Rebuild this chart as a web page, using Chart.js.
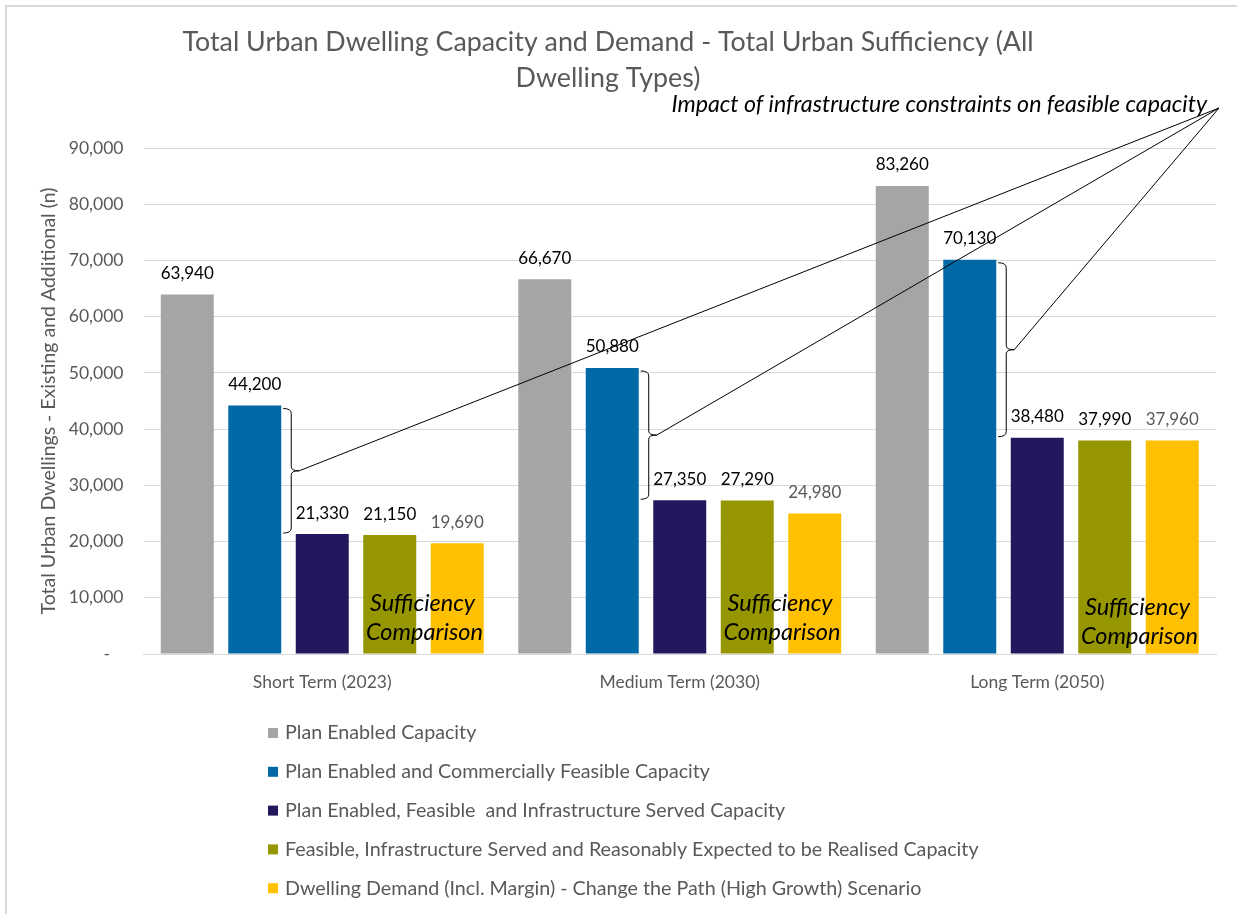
<!DOCTYPE html>
<html>
<head>
<meta charset="utf-8">
<title>Total Urban Dwelling Capacity and Demand</title>
<script src="https://cdn.jsdelivr.net/npm/chart.js@4.4.1/dist/chart.umd.min.js"></script>
<style>
  html, body { margin: 0; padding: 0; background: #fff; }
  #wrap { position: relative; width: 1237px; height: 914px; overflow: hidden; }
  /* marco gris del gráfico (solo se ve arriba y a la izquierda) */
  #marco { position: absolute; left: 5px; top: 5px; width: 1300px; height: 1000px;
           border-top: 2px solid #d9d9d9; border-left: 2px solid #d9d9d9; }
  #grafica { position: absolute; left: 0; top: 0; }
</style>
</head>
<body>
<div id="wrap">
  <div id="marco"></div>
  <canvas id="grafica" width="1237" height="914"></canvas>
</div>
<script>
// ============================================================
// DATOS
// ============================================================

const periodos = ['Short Term (2023)', 'Medium Term (2030)', 'Long Term (2050)'];

const nombresSeries = [
  'Plan Enabled Capacity',
  'Plan Enabled and Commercially Feasible Capacity',
  'Plan Enabled, Feasible  and Infrastructure Served Capacity',
  'Feasible, Infrastructure Served and Reasonably Expected to be Realised Capacity',
  'Dwelling Demand (Incl. Margin) - Change the Path (High Growth) Scenario'
];

const capacidadPlan = [63940, 66670, 83260];
const capacidadFactible = [44200, 50880, 70130];
const capacidadInfraestructura = [21330, 27350, 38480];
const capacidadRealizable = [21150, 27290, 37990];
const demandaAltoCrecimiento = [19690, 24980, 37960];

const coloresSeries = ['#a5a5a5', '#0069a6', '#24175e', '#969600', '#ffc000'];
const coloresEtiqueta = ['#000000', '#000000', '#000000', '#000000', '#595959'];

const ejeYMax = 90000;
const ejeYPaso = 10000;

const tituloLineas = [
  'Total Urban Dwelling Capacity and Demand - Total Urban Sufficiency (All',
  'Dwelling Types)'
];
const tituloEjeY = 'Total Urban Dwellings - Existing and Additional (n)';
const textoImpacto = 'Impact of infrastructure constraints on feasible capacity';
const textoSuficiencia = ['Sufficiency', 'Comparison'];

const FUENTE = "Lato, 'Open Sans', sans-serif";

// ============================================================
// PLUGIN DE ANOTACIONES (etiquetas, llaves, líneas, leyenda)
// ============================================================

const anotaciones = {
  id: 'anotaciones',
  afterDatasetsDraw(chart) {
    const { ctx, chartArea } = chart;
    ctx.save();

    // Valores encima de cada barra
    ctx.font = `17px ${FUENTE}`;
    ctx.textAlign = 'center';
    ctx.textBaseline = 'middle';
    chart.data.datasets.forEach((ds, i) => {
      const meta = chart.getDatasetMeta(i);
      ctx.fillStyle = coloresEtiqueta[i];
      meta.data.forEach((bar, j) => {
        ctx.fillText(ds.data[j].toLocaleString('en-US'), bar.x, bar.y - 21);
      });
    });

    // Llaves entre la capacidad factible y la servida por infraestructura
    const apiceX = chartArea.right + 3;
    const apiceY = chartArea.top - 40;
    const barrasAzules = chart.getDatasetMeta(1).data;
    const barrasMoradas = chart.getDatasetMeta(2).data;
    ctx.strokeStyle = '#000';
    ctx.lineWidth = 1;
    barrasAzules.forEach((azul, j) => {
      const morada = barrasMoradas[j];
      const xr = azul.x + azul.width / 2;
      const y0 = azul.y + 3;
      const y1 = morada.y - 1;
      const ym = (y0 + y1) / 2;
      const xv = xr + 10;
      const xp = xr + 18;
      ctx.beginPath();
      ctx.moveTo(xr + 2, y0);
      ctx.quadraticCurveTo(xv, y0, xv, y0 + 5);
      ctx.lineTo(xv, ym - 4);
      ctx.quadraticCurveTo(xv, ym, xp, ym);
      ctx.quadraticCurveTo(xv, ym, xv, ym + 4);
      ctx.lineTo(xv, y1 - 5);
      ctx.quadraticCurveTo(xv, y1, xr + 2, y1);
      ctx.stroke();

      // línea hacia el texto de impacto
      ctx.beginPath();
      ctx.moveTo(xp, ym);
      ctx.lineTo(apiceX, apiceY);
      ctx.stroke();
    });

    ctx.font = `italic 23.2px ${FUENTE}`;
    ctx.fillStyle = '#000';
    ctx.textAlign = 'right';
    ctx.fillText(textoImpacto, chartArea.right - 9, chartArea.top - 44);

    // "Sufficiency Comparison" sobre las barras realizable / demanda
    const ajusteY = [0, 0, 4];
    const barrasOliva = chart.getDatasetMeta(3).data;
    const barrasAmarillas = chart.getDatasetMeta(4).data;
    ctx.font = `italic 23.5px ${FUENTE}`;
    ctx.textAlign = 'center';
    barrasOliva.forEach((oliva, j) => {
      const cx = (oliva.x + barrasAmarillas[j].x) / 2 + 1;
      ctx.fillText(textoSuficiencia[0], cx - 2, chartArea.bottom - 51 + ajusteY[j]);
      ctx.fillText(textoSuficiencia[1], cx, chartArea.bottom - 22 + ajusteY[j]);
    });

    // Leyenda vertical debajo del eje
    ctx.font = `19.7px ${FUENTE}`;
    ctx.textAlign = 'left';
    chart.data.datasets.forEach((ds, i) => {
      const y = chartArea.bottom + 79 + i * 38.8;
      ctx.fillStyle = ds.backgroundColor;
      ctx.fillRect(268, y - 5, 10, 10);
      ctx.fillStyle = '#595959';
      ctx.fillText(ds.label, 285, y);
    });

    ctx.restore();
  }
};

// ============================================================
// GRÁFICA
// ============================================================

const valoresSeries = [
  capacidadPlan,
  capacidadFactible,
  capacidadInfraestructura,
  capacidadRealizable,
  demandaAltoCrecimiento
];

new Chart(document.getElementById('grafica'), {
  type: 'bar',
  data: {
    labels: periodos,
    datasets: valoresSeries.map((valores, i) => ({
      label: nombresSeries[i],
      data: valores,
      backgroundColor: coloresSeries[i],
      borderWidth: 0,
      categoryPercentage: 0.944,
      barPercentage: 0.785
    }))
  },
  options: {
    responsive: false,
    animation: false,
    layout: { padding: { left: 0, right: 21, top: 0, bottom: 210 } },
    plugins: {
      legend: { display: false },
      tooltip: { enabled: false },
      title: {
        display: true,
        text: tituloLineas,
        color: '#595959',
        font: { size: 26.8, family: FUENTE, weight: 'normal', lineHeight: 1.34 },
        padding: { top: 24, bottom: 52.2 }
      }
    },
    scales: {
      x: {
        grid: { display: false, drawTicks: false },
        border: { display: true, color: '#d9d9d9', width: 1 },
        ticks: { color: '#595959', padding: 18, font: { size: 17.5, family: FUENTE } },
        afterFit: (escala) => { escala.height = 50; }
      },
      y: {
        min: 0,
        max: ejeYMax,
        grid: { color: '#d9d9d9', lineWidth: 1, drawTicks: false },
        border: { display: false },
        ticks: {
          stepSize: ejeYPaso,
          color: '#595959',
          padding: 20,
          font: { size: 17.5, family: FUENTE },
          callback: (v) => v === 0 ? '-   ' : v.toLocaleString('en-US')
        },
        title: {
          display: true,
          text: tituloEjeY,
          color: '#595959',
          font: { size: 19.5, family: FUENTE },
          padding: { top: 37, bottom: 0 }
        },
        afterFit: (escala) => { escala.width = 143.5; }
      }
    }
  },
  plugins: [anotaciones]
});
</script>
</body>
</html>
